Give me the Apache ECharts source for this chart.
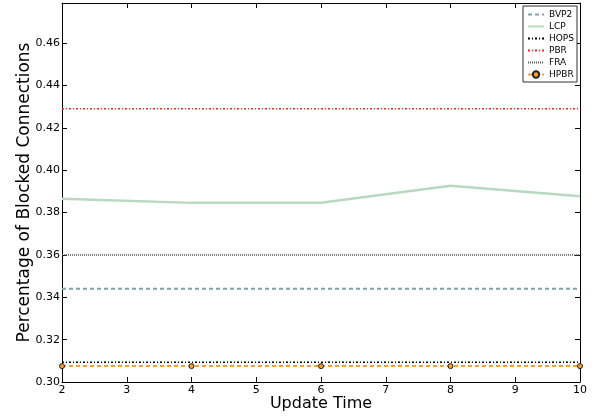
<!DOCTYPE html>
<html>
<head>
<meta charset="utf-8">
<script src="https://cdn.jsdelivr.net/npm/echarts@6/dist/echarts.min.js"></script>
<style>
  html, body { margin: 0; padding: 0; background: #fff; }
  #chart { width: 597px; height: 417px; }
</style>
</head>
<body>
<div id="chart"></div>
<script>
// update times on x axis
const updateTimes = [2, 4, 6, 8, 10];
const bvp2 = [0.344, 0.344, 0.344, 0.344, 0.344];
const lcp = [0.3865, 0.3846, 0.3847, 0.3927, 0.3877];
const hops = [0.3093, 0.3093, 0.3093, 0.3093, 0.3093];
const pbr = [0.429, 0.429, 0.429, 0.429, 0.429];
const fra = [0.360, 0.360, 0.360, 0.360, 0.360];
const hpbr = [0.3075, 0.3075, 0.3075, 0.3075, 0.3075];

const pairs = (ys) => updateTimes.map((x, i) => [x, ys[i]]);

const chart = echarts.init(document.getElementById("chart"), null, { renderer: "canvas" });

const font = "DejaVu Sans";
const tickStyle = { show: true, inside: true, length: 5, lineStyle: { color: "#000" } };
const noMarker = { opacity: 0 };

const option = {
  animation: false,
  textStyle: { fontFamily: font },
  grid: { left: 62, right: 17, top: 3, bottom: 35, containLabel: false, outerBoundsMode: "none" },
  legend: {
    right: 20,
    top: 6,
    orient: "vertical",
    align: "left",
    itemWidth: 16,
    itemHeight: 8,
    itemGap: 3,
    padding: [4, 3, 3, 4],
    borderColor: "#333",
    borderWidth: 1,
    backgroundColor: "#fff",
    textStyle: { fontFamily: font, fontSize: 9, color: "#000" },
    data: [
      { name: "BVP2", itemStyle: noMarker },
      { name: "LCP", itemStyle: noMarker },
      { name: "HOPS", itemStyle: noMarker },
      { name: "PBR", itemStyle: noMarker },
      { name: "FRA", itemStyle: noMarker },
      { name: "HPBR" },
    ],
  },
  xAxis: [
    {
      type: "value",
      min: 2,
      max: 10,
      interval: 1,
      name: "Update Time",
      nameLocation: "middle",
      nameGap: 14,
      nameMoveOverlap: false,
      nameTextStyle: { fontSize: 16, color: "#000", fontFamily: font },
      axisLine: { show: true, lineStyle: { color: "#000", width: 1 } },
      axisTick: tickStyle,
      axisLabel: { color: "#000", fontSize: 11, margin: 3 },
      splitLine: { show: false },
    },
    {
      type: "value",
      position: "top",
      min: 2,
      max: 10,
      interval: 1,
      axisLine: { show: true, lineStyle: { color: "#000", width: 1 } },
      axisTick: tickStyle,
      axisLabel: { show: false },
      splitLine: { show: false },
    },
  ],
  yAxis: [
    {
      type: "value",
      min: 0.30,
      max: 0.479,
      interval: 0.02,
      name: "Percentage of Blocked Connections",
      nameLocation: "middle",
      nameGap: 29,
      nameMoveOverlap: false,
      nameTextStyle: { fontSize: 17, color: "#000", fontFamily: font },
      axisLine: { show: true, lineStyle: { color: "#000", width: 1 } },
      axisTick: tickStyle,
      axisLabel: {
        color: "#000",
        fontSize: 11,
        margin: 2,
        showMaxLabel: false,
        formatter: (v) => v.toFixed(2),
      },
      splitLine: { show: false },
    },
    {
      type: "value",
      position: "right",
      min: 0.30,
      max: 0.479,
      interval: 0.02,
      axisLine: { show: true, lineStyle: { color: "#000", width: 1 } },
      axisTick: tickStyle,
      axisLabel: { show: false },
      splitLine: { show: false },
    },
  ],
  series: [
    {
      name: "BVP2",
      type: "line",
      data: pairs(bvp2),
      symbol: "none",
      color: "#7fa3a8",
      lineStyle: { color: "#7fa3a8", width: 2, type: [4, 3] },
    },
    {
      name: "LCP",
      type: "line",
      data: pairs(lcp),
      symbol: "none",
      color: "#b9d8c2",
      lineStyle: { color: "#b9d8c2", width: 2.5 },
    },
    {
      name: "HOPS",
      type: "line",
      data: pairs(hops),
      symbol: "none",
      color: "#000",
      lineStyle: { color: "#000", width: 1.5, type: [2, 2, 1, 2] },
    },
    {
      name: "PBR",
      type: "line",
      data: pairs(pbr),
      symbol: "none",
      color: "#ff2020",
      lineStyle: { color: "#ff2020", width: 1.5, type: [2, 2, 1, 2] },
    },
    {
      name: "FRA",
      type: "line",
      data: pairs(fra),
      symbol: "none",
      color: "#555",
      lineStyle: { color: "#555", width: 1.5, type: [1, 1] },
    },
    {
      name: "HPBR",
      type: "line",
      data: pairs(hpbr),
      symbol: "circle",
      symbolSize: 5,
      color: "#f5a030",
      itemStyle: { color: "#f5a030", borderColor: "#222", borderWidth: 1 },
      lineStyle: { color: "#f5a030", width: 2, type: [4, 3] },
    },
  ],
};

chart.setOption(option);
</script>
</body>
</html>
